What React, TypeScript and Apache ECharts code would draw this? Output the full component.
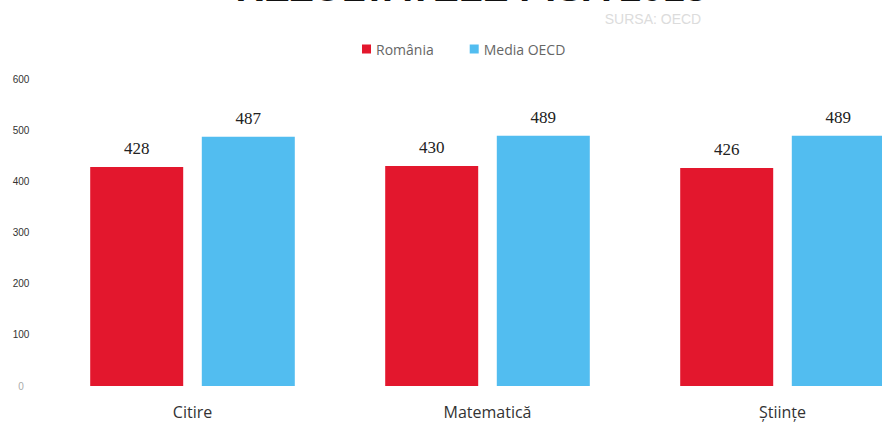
import React, { useEffect, useRef } from "react";
import * as echarts from "echarts";

const categories = ["Citire", "Matematică", "Științe"];
const romania = [428, 430, 426];
const oecd = [487, 489, 489];
const seriesNames = ["România", "Media OECD"];
const titleText = "REZULTATELE PISA 2018";
const sourceText = "SURSA: OECD";

export default function App() {
  const ref = useRef<HTMLDivElement>(null);
  useEffect(() => {
    if (!ref.current) return;
    const chart = echarts.init(ref.current, null, { renderer: "svg" });
    const labelStyle = {
      show: true,
      position: "top" as const,
      distance: 10,
      fontFamily: "Liberation Serif",
      fontSize: 17,
      color: "#222",
    };
    chart.setOption({
      animation: false,
      backgroundColor: "#ffffff",
      legend: {
        data: seriesNames,
        top: 37,
        left: 357,
        itemWidth: 9,
        itemHeight: 9,
        itemGap: 36,
        icon: "rect",
        textStyle: { fontFamily: "Open Sans", fontSize: 14, color: "#666" },
      },
      graphic: [
        {
          type: "text",
          x: 471,
          y: 7,
          style: {
            text: titleText,
            fontFamily: "Liberation Sans",
            fontWeight: "bold",
            fontSize: 39,
            fill: "#111",
            textAlign: "center",
            textVerticalAlign: "bottom",
          },
        },
        {
          type: "text",
          x: 653,
          y: 19,
          style: {
            text: sourceText,
            fontFamily: "Liberation Sans",
            fontSize: 14,
            fill: "#dcdcdc",
            textAlign: "center",
            textVerticalAlign: "middle",
          },
        },
      ],
      grid: { left: 45, top: 79, width: 885, height: 307, outerBoundsMode: "none" },
      xAxis: {
        type: "category",
        data: categories,
        axisLine: { show: false },
        axisTick: { show: false },
        axisLabel: {
          margin: 18,
          fontFamily: "Open Sans",
          fontSize: 16,
          color: "#333",
        },
      },
      yAxis: {
        type: "value",
        min: 0,
        max: 600,
        interval: 100,
        splitLine: { show: false },
        axisLine: { show: false },
        axisTick: { show: false },
        axisLabel: {
          align: "center",
          margin: 24,
          fontFamily: "Liberation Sans",
          fontSize: 10,
          color: "#333",
          formatter: (v: number) => (v === 0 ? "{z|0}" : String(v)),
          rich: { z: { color: "#aaa", fontSize: 10, fontFamily: "Liberation Sans" } },
        },
      },
      series: [
        {
          name: seriesNames[0],
          type: "bar",
          data: romania,
          barWidth: 93,
          barGap: "20%",
          itemStyle: { color: "#e3172d" },
          label: labelStyle,
        },
        {
          name: seriesNames[1],
          type: "bar",
          data: oecd,
          barWidth: 93,
          itemStyle: { color: "#52bdf0" },
          label: labelStyle,
        },
      ],
    });
    return () => chart.dispose();
  }, []);
  return (
    <div style={{ position: "fixed", left: 0, top: 0, width: 882, height: 426, overflow: "hidden" }}>
      <div ref={ref} style={{ width: 940, height: 426 }} />
    </div>
  );
}
